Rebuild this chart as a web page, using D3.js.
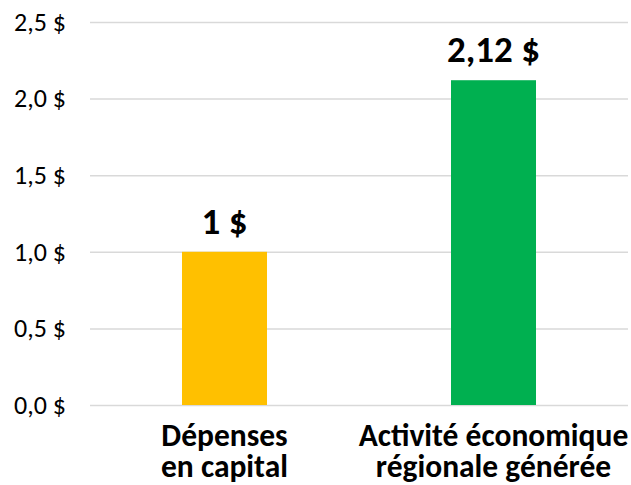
<!DOCTYPE html>
<html><head><meta charset="utf-8">
<script src="https://cdn.jsdelivr.net/npm/d3@7"></script>
<style>body{margin:0;background:#fff}svg{display:block}</style>
</head><body>
<svg id="c" width="631" height="485"></svg>
<script>
const categories = [["Dépenses", "en capital"], ["Activité économique", "régionale générée"]];
const values = [1, 2.12];
const valueLabels = ["1 $", "2,12 $"];
const colors = ["#FFC000", "#00B050"];
const tickValues = [0, 0.5, 1, 1.5, 2, 2.5];
const tickLabels = ["0,0 $", "0,5 $", "1,0 $", "1,5 $", "2,0 $", "2,5 $"];

const svg = d3.select("#c");
const font = "Carlito, Calibri, 'Open Sans', 'Liberation Sans', sans-serif";
const x = d3.scaleBand().domain(d3.range(values.length)).range([90, 628]).paddingInner(0.684).paddingOuter(0.342);
const y = d3.scaleLinear().domain([0, 2.5]).range([405, 22]);

const yAxis = d3.axisLeft(y).tickValues(tickValues).tickFormat((d, i) => tickLabels[i]).tickSize(-538).tickPadding(24);
const g = svg.append("g").attr("transform", "translate(90,0)").call(yAxis);
g.select(".domain").remove();
g.selectAll(".tick line").attr("stroke", "#d9d9d9").attr("stroke-width", 1.5);
g.selectAll(".tick text").attr("fill", "#000").style("font-family", font).style("font-size", "26px");

svg.selectAll("rect.bar").data(values).join("rect").attr("class", "bar")
  .attr("x", (d, i) => x(i)).attr("width", x.bandwidth())
  .attr("y", d => y(d)).attr("height", d => y(0) - y(d))
  .attr("fill", (d, i) => colors[i]);

svg.selectAll("text.val").data(values).join("text").attr("class", "val")
  .attr("x", (d, i) => x(i) + x.bandwidth() / 2).attr("y", d => y(d) - 18)
  .attr("text-anchor", "middle").style("font-family", font).style("font-weight", "bold").style("font-size", "37px")
  .text((d, i) => valueLabels[i]);

const catLines = [];
categories.forEach((c, i) => c.forEach((line, j) => catLines.push({i, j, line})));
svg.selectAll("text.cat").data(catLines).join("text").attr("class", "cat")
  .attr("x", d => x(d.i) + x.bandwidth() / 2).attr("y", d => 446 + d.j * 31)
  .attr("text-anchor", "middle").style("font-family", font).style("font-weight", "bold").style("font-size", "31.5px")
  .text(d => d.line);
</script>
</body></html>
